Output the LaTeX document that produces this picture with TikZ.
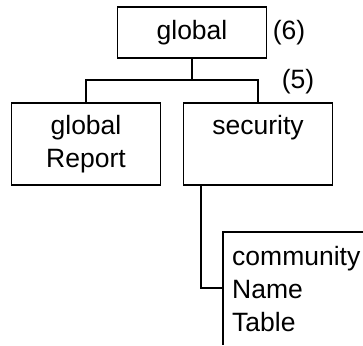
\documentclass[tikz,border=0pt]{standalone}
\usepackage{fontspec}
\setmainfont{Liberation Sans}
\begin{document}
\begin{tikzpicture}[x=1pt,y=-1pt,
  every node/.style={font=\fontsize{26.5}{33}\selectfont, inner sep=0pt},
  box/.style={draw, line width=1.4pt, minimum width=149pt},
  wire/.style={line width=1.4pt}]
\useasboundingbox (0,0) rectangle (363,345);
\node[box, minimum height=51pt] (glob) at (192,32.5) {global};
\node (six) at (289,33) {(6)};
\node[box, minimum height=82pt, align=center] (grep) at (86,144) {global\\Report};
\node[box, minimum height=82pt] (sec) at (258,144) {};
\node (sectext) at (258,128) {security};
\node (five) at (298,82) {(5)};
\coordinate (split) at (192,80);
\draw[wire] (glob.south) -- (split);
\draw[wire] (grep.north) |- (split) -| (sec.north);
% community box (open to the right and bottom)
\coordinate (ctl) at (223,232);
\draw[wire] (363,232) -- (ctl) -- (223,345);
\node[anchor=west, align=left] (comm) at (232,289) {community\\Name\\Table};
\coordinate (secdrop) at (201,185);
\coordinate (cleft) at (223,288);
\draw[wire] (secdrop) |- (cleft);
\end{tikzpicture}
\end{document}
